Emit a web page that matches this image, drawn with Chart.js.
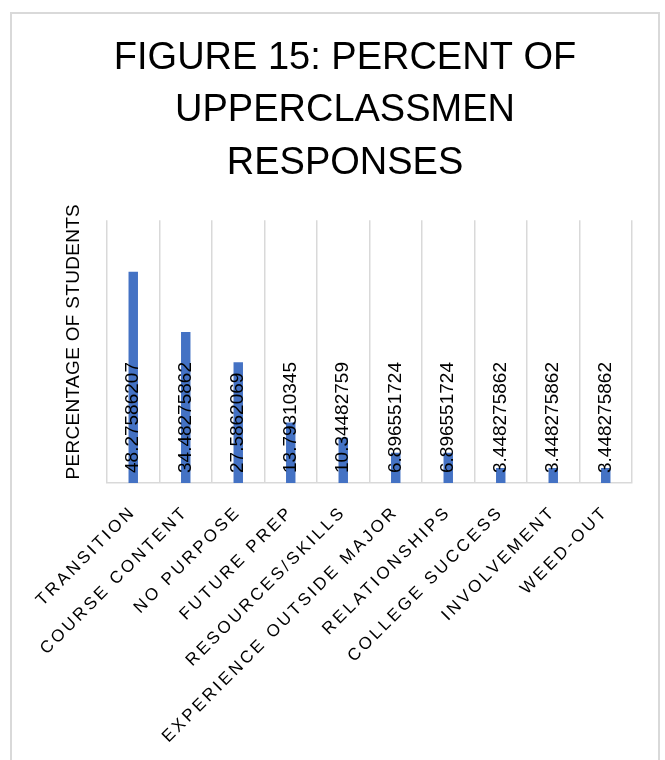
<!DOCTYPE html>
<html>
<head>
<meta charset="utf-8">
<script src="https://cdn.jsdelivr.net/npm/chart.js@4/dist/chart.umd.min.js"></script>
<style>
  html, body { margin: 0; padding: 0; background: #fff; overflow: hidden; }
  .frame { position: absolute; left: 10px; top: 12px; width: 646px; height: 800px; border: 2px solid #d9d9d9; }
  #chart { position: absolute; left: 0; top: 0; }
</style>
</head>
<body>
<div class="frame"></div>
<canvas id="chart" width="665" height="760"></canvas>
<script>
const categories = ['TRANSITION', 'COURSE CONTENT', 'NO PURPOSE', 'FUTURE PREP', 'RESOURCES/SKILLS',
  'EXPERIENCE OUTSIDE MAJOR', 'RELATIONSHIPS', 'COLLEGE SUCCESS', 'INVOLVEMENT', 'WEED-OUT'];
const percents = [48.27586207, 34.48275862, 27.5862069, 13.79310345, 10.34482759,
  6.896551724, 6.896551724, 3.448275862, 3.448275862, 3.448275862];
const titleLines = ['FIGURE 15: PERCENT OF', 'UPPERCLASSMEN', 'RESPONSES'];
const yTitle = 'PERCENTAGE OF STUDENTS';

const font = '"Liberation Sans", Arial, sans-serif';

// value labels, rotated, sitting at the base of each bar
const valueLabels = {
  id: 'valueLabels',
  afterDatasetsDraw(chart) {
    const ctx = chart.ctx;
    const meta = chart.getDatasetMeta(0);
    ctx.save();
    ctx.font = '19px ' + font;
    ctx.fillStyle = '#000';
    ctx.textAlign = 'left';
    ctx.textBaseline = 'middle';
    meta.data.forEach((bar, i) => {
      ctx.save();
      ctx.translate(bar.x, bar.base - 10);
      ctx.rotate(-Math.PI / 2);
      ctx.fillText(String(percents[i]), 0, 0);
      ctx.restore();
    });
    ctx.restore();
  }
};

// wider letter spacing on axis text, like the original
const spacing = {
  id: 'spacing',
  afterLayout(chart) {
    const x = chart.scales.x, y = chart.scales.y;
    if (!x._spaced) {
      const draw = x.drawLabels;
      x.drawLabels = function (area) {
        this.ctx.save();
        this.ctx.letterSpacing = '3px';
        draw.call(this, area);
        this.ctx.restore();
      };
      x._spaced = true;
    }
    if (!y._spaced) {
      const drawT = y.drawTitle;
      y.drawTitle = function (area) {
        this.ctx.save();
        this.ctx.letterSpacing = '0.3px';
        this.ctx.translate(0, -10);
        drawT.call(this, area);
        this.ctx.restore();
      };
      y._spaced = true;
    }
  }
};

new Chart(document.getElementById('chart'), {
  type: 'bar',
  data: {
    labels: categories,
    datasets: [{
      data: percents,
      backgroundColor: '#4472C4',
      barPercentage: 0.9,
      categoryPercentage: 0.2
    }]
  },
  options: {
    responsive: false,
    animation: false,
    layout: { padding: { left: 58, right: 33, top: 20, bottom: 0 } },
    plugins: {
      legend: { display: false },
      tooltip: { enabled: false },
      title: {
        display: true,
        text: titleLines,
        color: '#000',
        font: { family: font, size: 38, weight: 'normal', lineHeight: 1.38 },
        padding: { top: 12, bottom: 31 }
      }
    },
    scales: {
      x: {
        grid: { color: '#d9d9d9', lineWidth: 1.5, drawTicks: false, offset: true },
        border: { color: '#d9d9d9', width: 1.5 },
        ticks: {
          color: '#000',
          font: { family: font, size: 17 },
          minRotation: 45,
          maxRotation: 45,
          autoSkip: false,
          padding: 19
        },
        afterFit(scale) { scale.height = 277; }
      },
      y: {
        min: 0,
        max: 60,
        grid: { display: false, drawTicks: false },
        border: { display: false },
        ticks: { display: false },
        title: {
          display: true,
          text: yTitle,
          color: '#000',
          font: { family: font, size: 19 },
          padding: { top: 4, bottom: 0 }
        },
        afterFit(scale) { scale.width = 49; }
      }
    }
  },
  plugins: [valueLabels, spacing]
});
</script>
</body>
</html>
